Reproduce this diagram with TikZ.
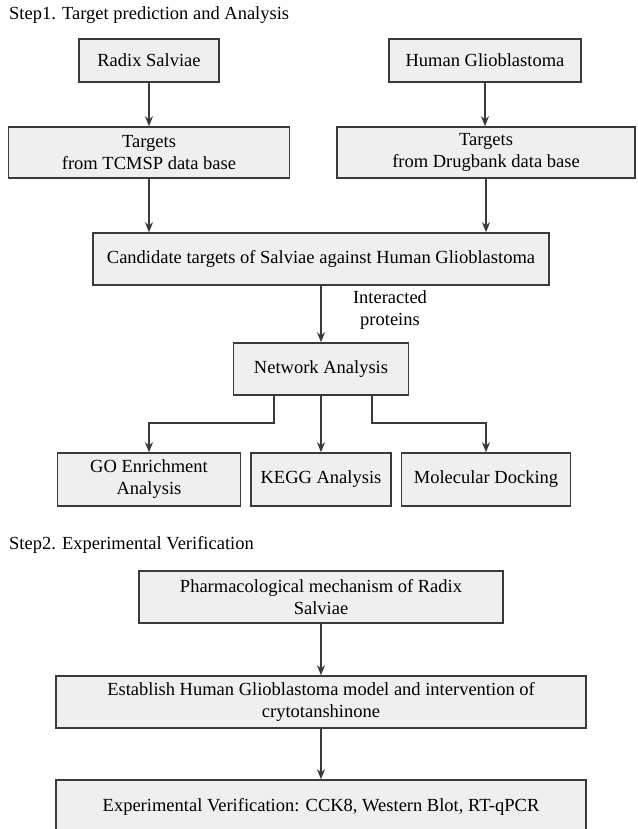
\documentclass[tikz,border=0pt]{standalone}
\usepackage{fontspec}
\setmainfont{Liberation Serif}
\usepackage{xcolor}
\usetikzlibrary{calc,
	positioning,
	arrows.meta}
\definecolor{boxfill}{HTML}{EEEFEE}
\definecolor{boxline}{HTML}{3A3A3A}

\begin{document}
\begin{tikzpicture}[x=1pt, y=-1pt,
	every node/.style={font=\fontsize{18.5}{22}\selectfont},
	stepbox/.style={draw=boxline, fill=boxfill, line width=1.5pt, align=center, inner sep=0pt},
	flow/.style={draw=boxline, line width=1.5pt, -{Stealth[length=10pt, width=8pt]}}]
	\useasboundingbox (0,0) rectangle (637,829);
	\node[anchor=west, inner sep=0pt] (stepone) at (9,15) {Step1. Target prediction and Analysis};
	\node[stepbox, minimum width=140pt, minimum height=43pt] (radix) at (149,60.5) {Radix Salviae};
	\node[stepbox, minimum width=192pt, minimum height=43pt] (human) at (485,60.5) {Human Glioblastoma};
	\node[stepbox, minimum width=281pt, minimum height=51pt] (tcmsp) at (149,152.5) {Targets\\from TCMSP data base};
	\node[stepbox, minimum width=298pt, minimum height=51pt] (drugbank) at (486,152.5) {Targets\\from Drugbank data base};
	\node[stepbox, minimum width=456pt, minimum height=52pt] (candidate) at (321,259) {Candidate targets of Salviae against Human Glioblastoma};
	\node[stepbox, minimum width=175pt, minimum height=52pt] (network) at (321,369) {Network Analysis};
	\node[align=center, inner sep=0pt] (interacted) at (390,310) {Interacted\\proteins};
	\node[stepbox, minimum width=183pt, minimum height=53pt] (enrich) at (149,479.5) {GO Enrichment\\Analysis};
	\node[stepbox, minimum width=140pt, minimum height=53pt] (kegg) at (321,479.5) {KEGG Analysis};
	\node[stepbox, minimum width=169pt, minimum height=53pt] (docking) at (486,479.5) {Molecular Docking};
	\node[anchor=west, inner sep=0pt] (steptwo) at (9,545) {Step2. Experimental Verification};
	\node[stepbox, minimum width=364pt, minimum height=52pt] (pharm) at (321,597) {Pharmacological mechanism of Radix\\Salviae};
	\node[stepbox, minimum width=530pt, minimum height=52pt] (model) at (321,702) {Establish Human Glioblastoma model and intervention of\\crytotanshinone};
	\node[stepbox, minimum width=530pt, minimum height=54pt] (verify) at (321,807) {Experimental Verification: CCK8, Western Blot, RT-qPCR};

	\draw[flow] (radix.south) -- (radix.south |- tcmsp.north);
	\draw[flow] (human.south) -- (human.south |- drugbank.north);
	\draw[flow] (tcmsp.south) -- (tcmsp.south |- candidate.north);
	\draw[flow] (drugbank.south) -- (drugbank.south |- candidate.north);
	\draw[flow] (candidate.south) -- (candidate.south |- network.north);
	\draw[flow] ([xshift=-47pt]network.south) -- ++(0,27) -| (enrich.north);
	\draw[flow] (network.south) -- (network.south |- kegg.north);
	\draw[flow] ([xshift=51pt]network.south) -- ++(0,27) -| (docking.north);
	\draw[flow] (pharm.south) -- (pharm.south |- model.north);
	\draw[flow] (model.south) -- (model.south |- verify.north);
\end{tikzpicture}
\end{document}
